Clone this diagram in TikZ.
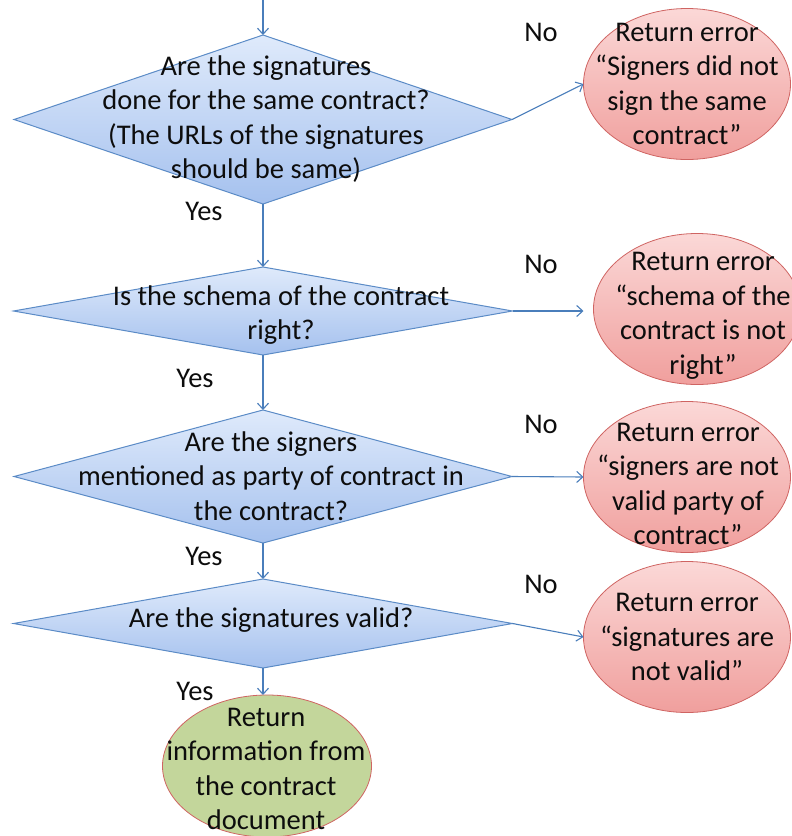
\documentclass[tikz,border=0pt]{standalone}
\usepackage{fontspec}
\setmainfont{Carlito}
\usetikzlibrary{shapes.geometric,arrows.meta}
\definecolor{qline}{HTML}{5B8BC6}
\definecolor{qtop}{HTML}{DFEAFB}
\definecolor{qbot}{HTML}{A5C1EE}
\definecolor{etop}{HTML}{FBD8D7}
\definecolor{ebot}{HTML}{F09F9D}
\definecolor{eline}{HTML}{CF6462}
\definecolor{gfill}{HTML}{C3D69B}
\definecolor{flowline}{HTML}{4A7EBB}

\begin{document}
\begin{tikzpicture}[x=1pt, y=-1pt,
  decision/.style={diamond, draw=qline, line width=1pt, top color=qtop, bottom color=qbot,
    inner sep=0pt, outer sep=0pt},
  errend/.style={ellipse, draw=eline, line width=0.8pt, top color=etop, bottom color=ebot,
    inner sep=0pt, outer sep=0pt, minimum width=207pt, minimum height=151pt},
  okend/.style={ellipse, draw=eline, line width=0.8pt, fill=gfill,
    inner sep=0pt, outer sep=0pt, minimum width=209pt, minimum height=142pt},
  txt/.style={align=center, text=black!95, inner sep=0pt,
    font=\fontsize{28.5}{34.5}\selectfont},
  flow/.style={draw=flowline, line width=1.1pt, -{Straight Barb[length=6pt,width=11pt]}}]
  \useasboundingbox (0,0) rectangle (792,836);

  % questions
  \node[decision, minimum width=498pt, minimum height=169pt] (q1) at (263,119.5) {};
  \node[decision, minimum width=499pt, minimum height=88pt] (q2) at (263,311) {};
  \node[decision, minimum width=498pt, minimum height=133pt] (q3) at (263,476.5) {};
  \node[decision, minimum width=499pt, minimum height=89pt] (q4) at (263,623.5) {};

  \node[txt] (q1t) at (266,119) {Are the signatures\\done for the same contract?\\(The URLs of the signatures\\should be same)};
  \node[txt] (q2t) at (281,315) {Is the schema of the contract\\right?};
  \node[txt] (q3t) at (271,476) {Are the signers\\mentioned as party of contract in\\the contract?};
  \node[txt] (q4t) at (271,620) {Are the signatures valid?};

  % outcomes
  \node[errend] (e1) at (687,84) {};
  \node[errend] (e2) at (697,309) {};
  \node[errend] (e3) at (687,477) {};
  \node[errend] (e4) at (687,637) {};
  \node[okend] (g1) at (267,766) {};

  \node[txt] (e1t) at (687,84) {Return error\\“Signers did not\\sign the same\\contract”};
  \node[txt] (e2t) at (703,316) {Return error\\“schema of the\\contract is not\\right”};
  \node[txt] (e3t) at (688,484) {Return error\\“signers are not\\valid party of\\contract”};
  \node[txt] (e4t) at (687,637) {Return error\\“signatures are\\not valid”};
  \node[txt] (g1t) at (266,769) {Return\\information from\\the contract\\document};

  % answers
  \node[txt] (no1) at (541,32) {No};
  \node[txt] (no2) at (541,264) {No};
  \node[txt] (no3) at (541,424) {No};
  \node[txt] (no4) at (541,584) {No};
  \node[txt] (yes1) at (204,211) {Yes};
  \node[txt] (yes2) at (195,378) {Yes};
  \node[txt] (yes3) at (204,556) {Yes};
  \node[txt] (yes4) at (195,691) {Yes};

  \coordinate (entry) at (263,0);
  \draw[flow] (entry) -- (q1.north);
  \draw[flow] (q1.south) -- (q2.north);
  \draw[flow] (q2.south) -- (q3.north);
  \draw[flow] (q3.south) -- (q4.north);
  \draw[flow] (q4.south) -- (q4.south |- g1.north);
  \draw[flow] (q1.east) -- (e1.west);
  \draw[flow, shorten >=10pt] (q2.east) -- (q2.east -| e2.west);
  \draw[flow] (q3.east) -- (e3.west);
  \draw[flow] (q4.east) -- (e4.west);
\end{tikzpicture}
\end{document}
